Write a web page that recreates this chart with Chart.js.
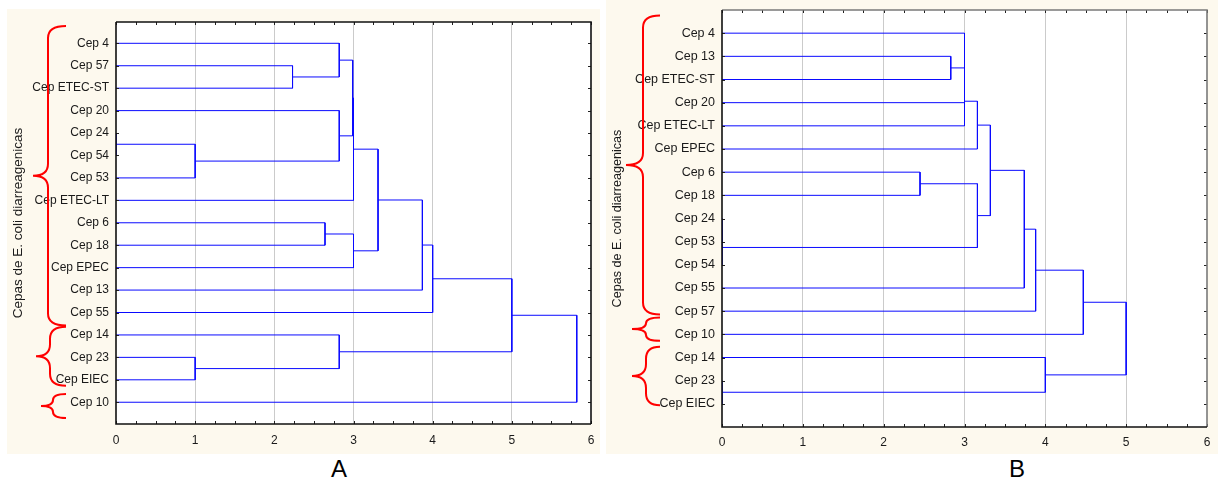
<!DOCTYPE html>
<html>
<head>
<meta charset="utf-8">
<title>Dendrogramas A y B</title>
<script src="https://cdn.jsdelivr.net/npm/chart.js@4.4.1/dist/chart.umd.min.js"></script>
<style>
  body { margin: 0; background: #fff; width: 1218px; height: 481px; position: relative; overflow: hidden; font-family: 'Liberation Sans', Arial, sans-serif; }
  #panel-a { position: absolute; left: 7px; top: 9px; }
  #panel-b { position: absolute; left: 606px; top: 0; }
  .letter { position: absolute; top: 457px; width: 40px; text-align: center; font-size: 24px; line-height: 24px; color: #000; }
</style>
</head>
<body>
<div id="panel-a"><canvas id="chart-a" width="593" height="445"></canvas></div>
<div id="panel-b"><canvas id="chart-b" width="612" height="454"></canvas></div>
<div class="letter" style="left:319px">A</div>
<div class="letter" style="left:997px">B</div>
<script>
'use strict'

//leaves, top to bottom
let leavesA = ['Cep 4', 'Cep 57', 'Cep ETEC-ST', 'Cep 20', 'Cep 24', 'Cep 54', 'Cep 53', 'Cep ETEC-LT', 'Cep 6', 'Cep 18', 'Cep EPEC', 'Cep 13', 'Cep 55', 'Cep 14', 'Cep 23', 'Cep EIEC', 'Cep 10'];
let leavesB = ['Cep 4', 'Cep 13', 'Cep ETEC-ST', 'Cep 20', 'Cep ETEC-LT', 'Cep EPEC', 'Cep 6', 'Cep 18', 'Cep 24', 'Cep 53', 'Cep 54', 'Cep 55', 'Cep 57', 'Cep 10', 'Cep 14', 'Cep 23', 'Cep EIEC'];

//joins: node ids (leaves first, then each join gets the next id)
let mergesA = [[4, 5], [17, 6], [14, 15], [1, 2], [8, 9], [0, 20], [3, 18], [13, 19], [22, 23], [25, 7], [21, 10], [26, 27], [28, 11], [29, 12], [30, 24], [31, 16]];
let heightsA = [0, 1.0, 1.0, 2.23, 2.64, 2.82, 2.82, 2.82, 2.99, 3.0, 3.0, 3.31, 3.87, 4.0, 5.0, 5.82];

let mergesB = [[8, 9], [17, 10], [15, 16], [6, 7], [1, 2], [0, 21], [22, 3], [23, 4], [24, 5], [20, 18], [25, 26], [27, 11], [28, 12], [14, 19], [29, 13], [31, 30]];
let heightsB = [0, 0, 0, 2.45, 2.83, 3.0, 3.0, 3.0, 3.16, 3.16, 3.32, 3.74, 3.88, 4.0, 4.47, 5.0];

//linkage distance ticks
let distTicks = [0, 1, 2, 3, 4, 5, 6];

let axisTitle = 'Cepas de E. coli diarreagenicas';
let fontFamily = "'Liberation Sans', Arial, sans-serif";
let lineBlue = 'rgb(10, 10, 255)';
let cream = '#fdf9ee';

//brace groups [first, last, shape] in leaf units
let bracesA = [[-0.77, 12.58, 0], [12.64, 15.26, 1], [15.63, 16.7, 2]];
let bracesB = [[-0.76, 12.14, 0], [12.27, 13.28, 1], [13.54, 16.06, 1]];

//turn the joins into U shaped links
function buildLinks(leaves, merges, heights){
  let nodeY = leaves.map((name, i) => i);
  let nodeH = leaves.map(() => 0);
  let links = [];

  for (let i = 0; i < merges.length; i++){
    let a = merges[i][0];
    let b = merges[i][1];
    let h = heights[i];
    links.push([
      {x: nodeH[a], y: nodeY[a]},
      {x: h, y: nodeY[a]},
      {x: h, y: nodeY[b]},
      {x: nodeH[b], y: nodeY[b]}
    ]);
    nodeY.push((nodeY[a] + nodeY[b]) / 2);
    nodeH.push(h);
  }
  return links;
}

//red curly brace
function drawBrace(ctx, tipX, spineX, pointX, yTop, yBot){
  let yMid = (yTop + yBot) / 2;
  let r = Math.min(12, (yBot - yTop) / 4);
  ctx.beginPath();
  ctx.moveTo(tipX, yTop);
  ctx.quadraticCurveTo(spineX, yTop, spineX, yTop + r);
  ctx.lineTo(spineX, yMid - r);
  ctx.quadraticCurveTo(spineX, yMid, pointX, yMid);
  ctx.quadraticCurveTo(spineX, yMid, spineX, yMid + r);
  ctx.lineTo(spineX, yBot - r);
  ctx.quadraticCurveTo(spineX, yBot, tipX, yBot);
  ctx.stroke();
}

//background, frame, inside ticks and braces
let framePlugin = {
  id: 'frame',
  beforeDraw(chart){
    let ctx = chart.ctx;
    let area = chart.chartArea;
    ctx.save();
    ctx.fillStyle = cream;
    ctx.fillRect(0, 0, chart.width, chart.height);
    ctx.fillStyle = '#fff';
    ctx.fillRect(area.left, area.top, area.right - area.left, area.bottom - area.top);
    ctx.restore();
  },
  afterDraw(chart, args, opts){
    let ctx = chart.ctx;
    let area = chart.chartArea;
    let xs = chart.scales.x;
    let ys = chart.scales.y;
    ctx.save();

    //minor ticks on x
    ctx.strokeStyle = '#222';
    ctx.lineWidth = 1;
    ctx.beginPath();
    for (let v = 0; v <= 6.001; v += 0.25){
      let px = Math.round(xs.getPixelForValue(v)) + 0.5;
      ctx.moveTo(px, area.bottom);
      ctx.lineTo(px, area.bottom - 3);
      ctx.moveTo(px, area.top);
      ctx.lineTo(px, area.top + 3);
    }
    //ticks at each leaf
    for (let i = 0; i < opts.leafCount; i++){
      let py = Math.round(ys.getPixelForValue(i)) + 0.5;
      ctx.moveTo(area.left, py);
      ctx.lineTo(area.left + 3, py);
      ctx.moveTo(area.right, py);
      ctx.lineTo(area.right - 3, py);
    }
    ctx.stroke();

    //frame
    ctx.lineWidth = 1.6;
    ctx.strokeStyle = opts.farColor;
    ctx.beginPath();
    ctx.moveTo(area.left, area.top);
    ctx.lineTo(area.right, area.top);
    ctx.lineTo(area.right, area.bottom);
    ctx.stroke();
    ctx.strokeStyle = '#111';
    ctx.beginPath();
    ctx.moveTo(area.left, area.top);
    ctx.lineTo(area.left, area.bottom);
    ctx.lineTo(area.right, area.bottom);
    ctx.stroke();

    //braces
    ctx.strokeStyle = 'rgb(255, 0, 0)';
    ctx.lineWidth = 2;
    for (let i = 0; i < opts.braces.length; i++){
      let br = opts.braces[i];
      let shape = opts.shapes[br[2]];
      drawBrace(ctx, area.left + opts.tip, area.left + shape[0], area.left + shape[1],
        ys.getPixelForValue(br[0]), ys.getPixelForValue(br[1]));
    }
    ctx.restore();
  }
};

//one dendrogram chart
function makeChart(id, leaves, merges, heights, cfg){
  let links = buildLinks(leaves, merges, heights);
  let datasets = links.map(pts => ({
    data: pts,
    showLine: true,
    borderColor: lineBlue,
    borderWidth: 1,
    pointRadius: 0,
    fill: false,
    tension: 0
  }));

  let myChartObj = {
    type: 'scatter',
    data: {datasets: datasets},
    options: {
      responsive: false,
      animation: false,
      events: [],
      layout: {padding: {top: cfg.padTop, right: cfg.padRight, left: 0, bottom: 0}},
      plugins: {
        legend: {display: false},
        tooltip: {enabled: false},
        frame: {
          leafCount: leaves.length,
          braces: cfg.braces,
          tip: cfg.tip,
          shapes: cfg.shapes,
          farColor: cfg.farColor
        }
      },
      scales: {
        x: {
          type: 'linear',
          min: 0,
          max: 6,
          afterFit(scale){
            scale.height = cfg.xHeight;
            scale.paddingLeft = 0;
            scale.paddingRight = 0;
          },
          afterBuildTicks(scale){ scale.ticks = distTicks.map(v => ({value: v})); },
          ticks: {
            padding: cfg.xPad,
            color: '#1a1a1a',
            font: {family: fontFamily, size: 12},
            callback: v => String(v)
          },
          grid: {
            drawTicks: false,
            lineWidth: 1,
            color: c => (c.tick && c.tick.value > 0 && c.tick.value < 6) ? '#cbcbcb' : 'rgba(0,0,0,0)'
          },
          border: {display: false}
        },
        y: {
          type: 'linear',
          reverse: true,
          min: cfg.yMin,
          max: cfg.yMax,
          afterFit(scale){
            scale.width = cfg.yWidth;
            scale.paddingTop = 0;
            scale.paddingBottom = 0;
          },
          afterBuildTicks(scale){ scale.ticks = leaves.map((n, i) => ({value: i})); },
          ticks: {
            autoSkip: false,
            padding: 7,
            color: '#1a1a1a',
            font: {family: fontFamily, size: cfg.labelSize},
            callback: v => leaves[v]
          },
          grid: {display: false, drawTicks: false},
          border: {display: false},
          title: {
            display: true,
            text: axisTitle,
            color: '#1a1a1a',
            font: {family: fontFamily, size: cfg.titleSize},
            padding: {top: cfg.titlePad, bottom: 0}
          }
        }
      }
    },
    plugins: [framePlugin]
  };

  return new Chart(document.getElementById(id), myChartObj);
}

makeChart('chart-a', leavesA, mergesA, heightsA, {
  padTop: 13, padRight: 9, xHeight: 30, yWidth: 109, xPad: 9,
  yMin: -0.95, yMax: 16.97, labelSize: 12, titleSize: 13.5, titlePad: 3,
  braces: bracesA, tip: -50, shapes: [[-68, -83], [-66, -80], [-63, -75]], farColor: '#111'
});

makeChart('chart-b', leavesB, mergesB, heightsB, {
  padTop: 10, padRight: 11, xHeight: 27, yWidth: 116, xPad: 8,
  yMin: -1, yMax: 17, labelSize: 12.5, titleSize: 12.6, titlePad: 4,
  braces: bracesB, tip: -62, shapes: [[-79, -96], [-76, -90]], farColor: '#7a7a7a'
});
</script>
</body>
</html>
